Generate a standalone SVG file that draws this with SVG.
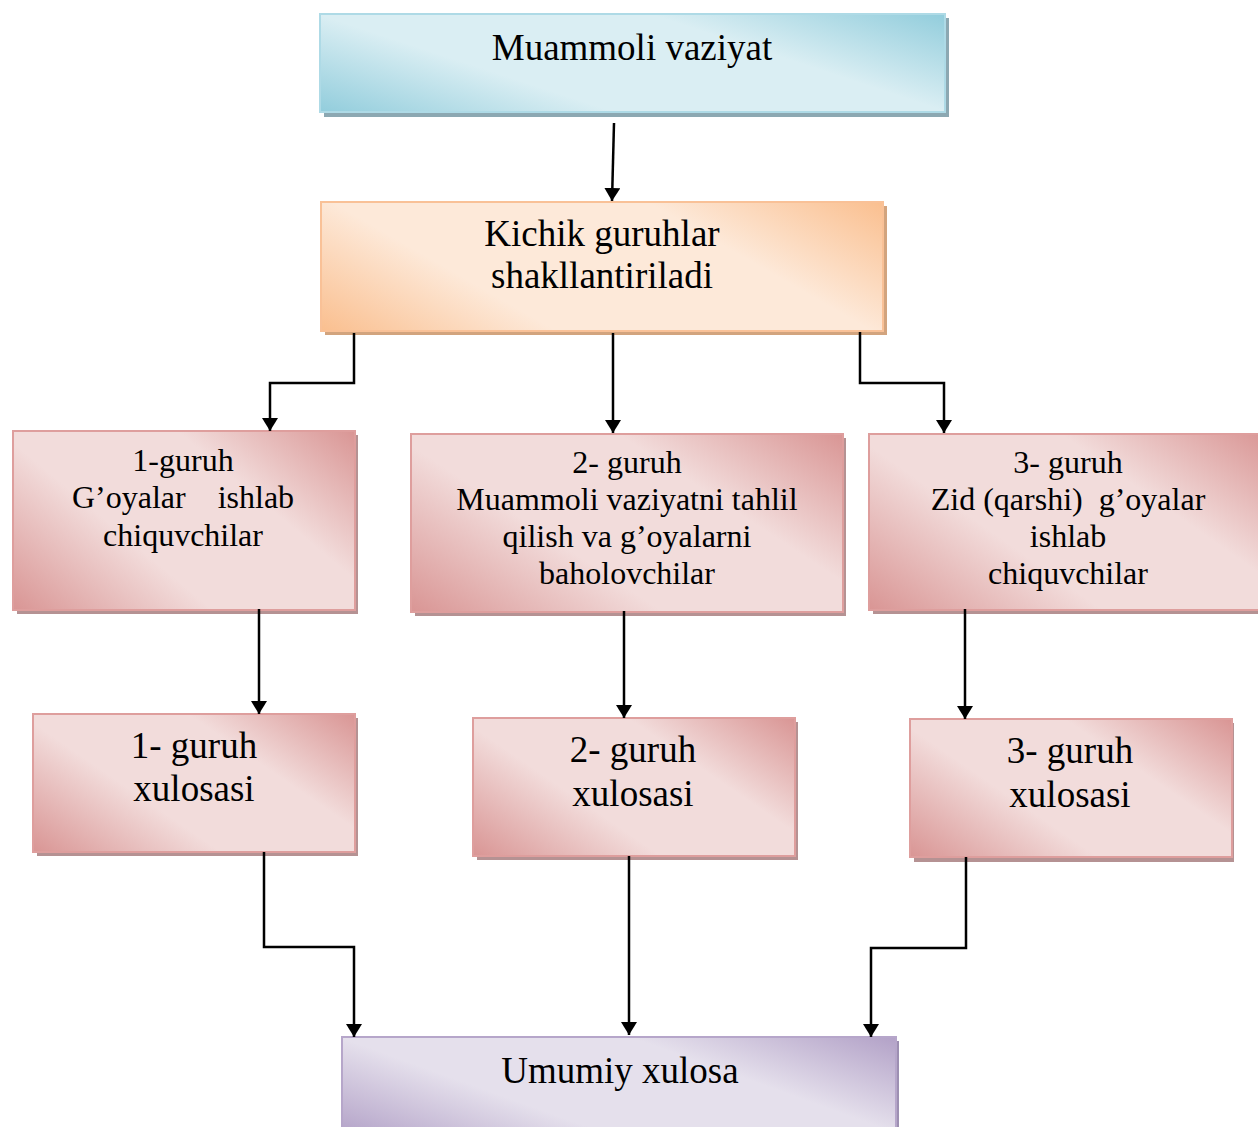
<svg xmlns="http://www.w3.org/2000/svg" width="1258" height="1127" viewBox="0 0 1258 1127">
<defs>
<linearGradient id="gBlue" x1="0" y1="1" x2="1.203" y2="0.427">
<stop offset="0" stop-color="#92CDDC"/><stop offset="0.32" stop-color="#DAEEF3"/><stop offset="0.68" stop-color="#DAEEF3"/><stop offset="1" stop-color="#92CDDC"/>
</linearGradient>
<linearGradient id="gOrange" x1="0" y1="1" x2="1.207" y2="0.517">
<stop offset="0" stop-color="#FABF8F"/><stop offset="0.3" stop-color="#FDE9D9"/><stop offset="0.7" stop-color="#FDE9D9"/><stop offset="1" stop-color="#FABF8F"/>
</linearGradient>
<linearGradient id="gPink" x1="0" y1="1" x2="1.169" y2="0.27">
<stop offset="0" stop-color="#D99594"/><stop offset="0.36" stop-color="#F2DCDB"/><stop offset="0.68" stop-color="#F2DCDB"/><stop offset="1" stop-color="#D99594"/>
</linearGradient>
<linearGradient id="gPurple" x1="0" y1="1" x2="1.2" y2="0.4">
<stop offset="0" stop-color="#B2A1C7"/><stop offset="0.33" stop-color="#E5E0EC"/><stop offset="0.68" stop-color="#E5E0EC"/><stop offset="1" stop-color="#B2A1C7"/>
</linearGradient>
<marker id="arr" viewBox="0 0 13 16" refX="13" refY="8" markerWidth="13" markerHeight="16" markerUnits="userSpaceOnUse" orient="auto">
<path d="M0,0 L13,8 L0,16 Z" fill="#000"/>
</marker>
</defs>
<style>
.t32{font-family:"Liberation Serif","Times New Roman",serif;font-size:32px;text-anchor:middle;fill:#000}
.t37{font-family:"Liberation Serif","Times New Roman",serif;font-size:37px;text-anchor:middle;fill:#000}
.blue{fill:url(#gBlue);stroke:#AEDAE6;stroke-width:2}
.orange{fill:url(#gOrange);stroke:#F9C197;stroke-width:2}
.pink{fill:url(#gPink);stroke:#DE9E9D;stroke-width:2}
.purple{fill:url(#gPurple);stroke:#B6A6CA;stroke-width:2}
.shBlue{fill:#8CA8B2}
.shOrange{fill:#D2A47E}
.shPink{fill:#B59293}
.shPurple{fill:#9D8FB2}
.con{fill:none;stroke:#000;stroke-width:2.5;marker-end:url(#arr)}
</style>

<g id="node-muammoli">
<rect class="shBlue" x="324" y="18" width="625" height="99"/>
<rect class="blue" x="320" y="14" width="625" height="98"/>
<text class="t37" x="632" y="60">Muammoli vaziyat</text>
</g>

<g id="node-kichik">
<rect class="shOrange" x="325" y="206" width="562" height="129"/>
<rect class="orange" x="321" y="202" width="562" height="129"/>
<text class="t37" x="602" y="246">Kichik guruhlar</text>
<text class="t37" x="602" y="288">shakllantiriladi</text>
</g>

<g id="node-guruh1">
<rect class="shPink" x="17" y="435" width="341" height="179"/>
<rect class="pink" x="13" y="431" width="342" height="179"/>
<text class="t32" x="183" y="471">1-guruh</text>
<text class="t32" x="183" y="508" xml:space="preserve">G’oyalar    ishlab</text>
<text class="t32" x="183" y="546">chiquvchilar</text>
</g>

<g id="node-guruh2">
<rect class="shPink" x="415" y="438" width="431" height="178"/>
<rect class="pink" x="411" y="434" width="432" height="178"/>
<text class="t32" x="627" y="473">2- guruh</text>
<text class="t32" x="627" y="510">Muammoli vaziyatni tahlil</text>
<text class="t32" x="627" y="547">qilish va g’oyalarni</text>
<text class="t32" x="627" y="584">baholovchilar</text>
</g>

<g id="node-guruh3">
<rect class="shPink" x="873" y="438" width="400" height="176"/>
<rect class="pink" x="869" y="434" width="400" height="176"/>
<text class="t32" x="1068" y="473">3- guruh</text>
<text class="t32" x="1068" y="510" xml:space="preserve">Zid (qarshi)  g’oyalar</text>
<text class="t32" x="1068" y="547">ishlab</text>
<text class="t32" x="1068" y="584">chiquvchilar</text>
</g>

<g id="node-xulosa1">
<rect class="shPink" x="37" y="718" width="321" height="138"/>
<rect class="pink" x="33" y="714" width="322" height="138"/>
<text class="t37" x="194" y="758">1- guruh</text>
<text class="t37" x="194" y="801">xulosasi</text>
</g>

<g id="node-xulosa2">
<rect class="shPink" x="477" y="722" width="321" height="138"/>
<rect class="pink" x="473" y="718" width="322" height="138"/>
<text class="t37" x="633" y="762">2- guruh</text>
<text class="t37" x="633" y="806">xulosasi</text>
</g>

<g id="node-xulosa3">
<rect class="shPink" x="914" y="723" width="320" height="139"/>
<rect class="pink" x="910" y="719" width="322" height="138"/>
<text class="t37" x="1070" y="763">3- guruh</text>
<text class="t37" x="1070" y="807">xulosasi</text>
</g>

<g id="node-umumiy">
<rect class="shPurple" x="346" y="1041" width="553" height="100"/>
<rect class="purple" x="342" y="1037" width="554" height="100"/>
<text class="t37" x="620" y="1083">Umumiy xulosa</text>
</g>

<g id="connectors">
<path class="con" d="M614,123 L612,201"/>
<path class="con" d="M354,333 V383 H270 V431"/>
<path class="con" d="M613,333 V433"/>
<path class="con" d="M860,332 V383 H944 V433"/>
<path class="con" d="M259,609 V714"/>
<path class="con" d="M624,611 V718"/>
<path class="con" d="M965,609 V719"/>
<path class="con" d="M264,852 V947 H354 V1037"/>
<path class="con" d="M629,856 V1035"/>
<path class="con" d="M966,857 V948 H871 V1037"/>
</g>
</svg>
